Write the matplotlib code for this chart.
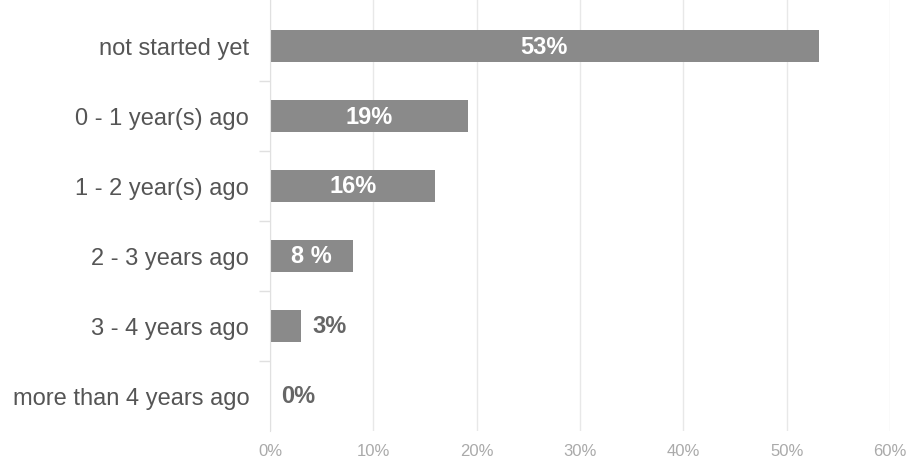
import numpy as np
import matplotlib
matplotlib.use("Agg")
import matplotlib.pyplot as plt

plt.rcParams['font.family'] = ['Liberation Sans', 'DejaVu Sans']

categories = ["not started yet", "0 - 1 year(s) ago", "1 - 2 year(s) ago",
              "2 - 3 years ago", "3 - 4 years ago", "more than 4 years ago"]
values = [53.1, 19.2, 16.0, 8.0, 3.0, 0.0]
labels = ["53%", "19%", "16%", "8 %", "3%", "0%"]
xticks = [0, 10, 20, 30, 40, 50, 60]

bar_color = "#8a8a8a"
value_font = ['Liberation Sans Narrow', 'Liberation Sans', 'DejaVu Sans']

fig = plt.figure(figsize=(9.07, 4.6), dpi=100)
ax = fig.add_axes([270/907, 28/460, 620/907, 432/460])

y = np.arange(len(categories))
ax.barh(y, values, height=0.47, color=bar_color, zorder=2)

for yi, v, lab in zip(y, values, labels):
    if v >= 5:
        ax.text(v / 2, yi, lab, ha="center", va="center", color="white",
                fontsize=17, fontweight="bold", family=value_font, zorder=3)
    else:
        ax.text(v + 1.1, yi, lab, ha="left", va="center", color="#666666",
                fontsize=17, fontweight="bold", family=value_font, zorder=3)

ax.set_xlim(0, 60)
ax.set_ylim(5.5, -0.5 - 12/70)
ax.set_xticks(xticks)
ax.set_xticklabels([f"{t}%" for t in xticks], color="#aaaaaa", fontsize=12)
ax.set_yticks(y)
ax.set_yticklabels(categories, color="#555555", fontsize=17)
ax.set_yticks(np.arange(0.5, 5.0, 1.0), minor=True)
ax.tick_params(axis="y", which="major", length=0, pad=15)
ax.tick_params(axis="y", which="minor", length=8, color="#e0e0e0", width=1)
ax.tick_params(axis="x", length=0, pad=9)

ax.grid(axis="x", color="#e8e8e8", lw=1, zorder=0)
for s in ["top", "right", "bottom"]:
    ax.spines[s].set_visible(False)
ax.spines["left"].set_color("#e0e0e0")

fig.savefig("out.png", dpi=100)
